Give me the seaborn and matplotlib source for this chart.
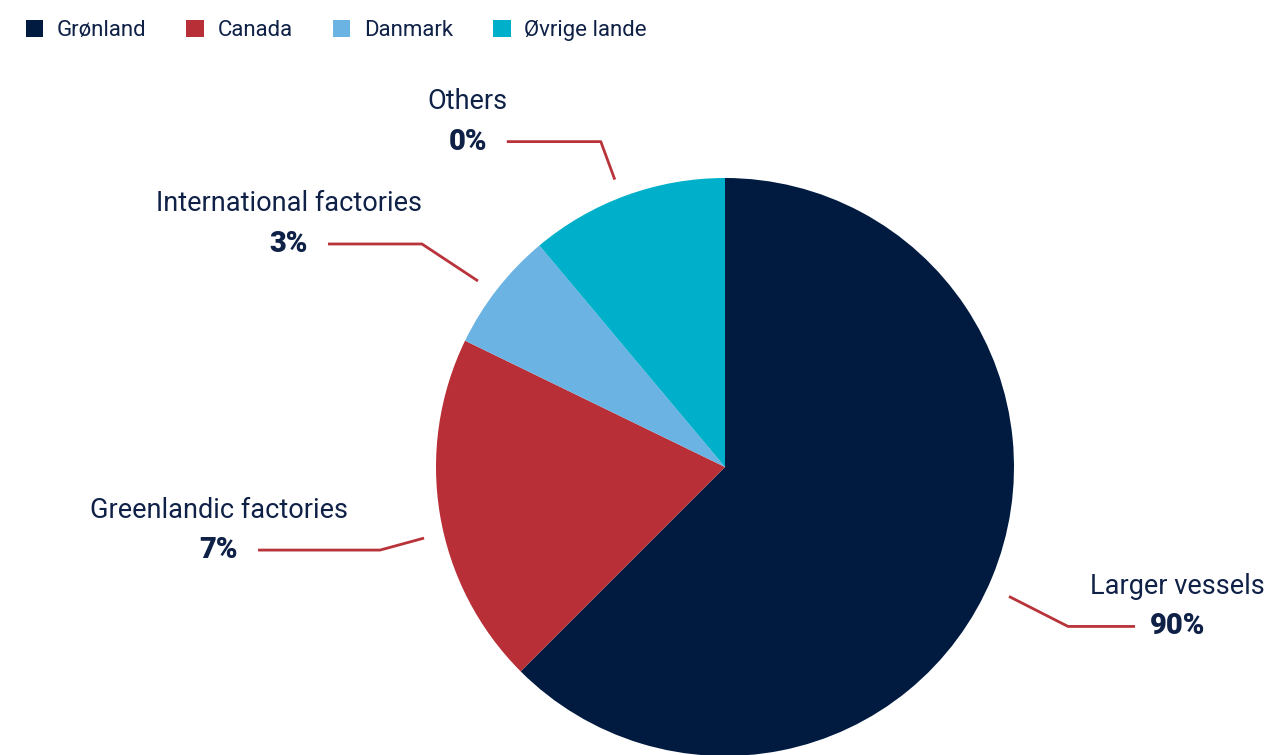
import numpy as np
import matplotlib
matplotlib.use('Agg')
import matplotlib.pyplot as plt
import seaborn as sns
from matplotlib.patches import Patch

# slice shares as drawn
legend_names = ['Grønland', 'Canada', 'Danmark', 'Øvrige lande']
slice_values = [62.5, 19.7, 6.7, 11.1]
slice_colors = ['#001a40', '#b92f37', '#6bb3e3', '#00afc9']

# callout texts, one per slice
callout_names = ['Larger vessels', 'Greenlandic factories', 'International factories', 'Others']
callout_pcts = ['90%', '7%', '3%', '0%']

text_color = '#0f2147'
line_color = '#b9333a'

sns.set_theme(style='white')
plt.rcParams['font.family'] = ['Roboto', 'DejaVu Sans']

W, H = 1268, 755
fig = plt.figure(figsize=(W / 100, H / 100), dpi=100)
ax = fig.add_axes([0, 0, 1, 1])

cx, cy, R = 725, H - 467, 289
wedges, _ = ax.pie(slice_values, colors=slice_colors, startangle=90, counterclock=False,
                   center=(cx, cy), radius=R, wedgeprops=dict(linewidth=0))
ax.set_xlim(0, W)
ax.set_ylim(0, H)
ax.set_aspect('equal')
ax.axis('off')

# leader line layout: (angle tweak, radius factor, elbow dx, elbow dy, horizontal length)
layout = [(-2, 1.08, 59, -30, 67), (3.75, 1.07, -44, -12, -122),
          (1, 1.07, -56, 37, -94), (1, 1.065, -14, 38, -94)]

fig.canvas.draw()
renderer = fig.canvas.get_renderer()
inv = ax.transData.inverted()

for w, name, pct, (dt, rf, ex, ey, hl) in zip(wedges, callout_names, callout_pcts, layout):
    mid = np.deg2rad((w.theta1 + w.theta2) / 2 + dt)
    sx = cx + rf * R * np.cos(mid)
    sy = cy + rf * R * np.sin(mid)
    bx, by = sx + ex, sy + ey
    tx = bx + hl
    ax.plot([sx, bx, tx], [sy, by, by], color=line_color, lw=2, solid_capstyle='butt')
    if hl > 0:
        p = ax.text(tx + 15, by, pct, ha='left', va='center', fontsize=21,
                    fontweight='black', color=text_color)
    else:
        p = ax.text(tx - 20, by, pct, ha='right', va='center', fontsize=21,
                    fontweight='black', color=text_color)
    bb = p.get_window_extent(renderer)
    (x0, _), (x1, _) = inv.transform([[bb.x0, bb.y0], [bb.x1, bb.y1]])
    ax.text((x0 + x1) / 2, by + 40, name, ha='center', va='center', fontsize=19.5,
            color=text_color)

handles = [Patch(facecolor=c, edgecolor='none') for c in slice_colors]
leg = fig.legend(handles, legend_names, loc='upper left', bbox_to_anchor=(0.008, 0.994),
                 ncol=4, frameon=False, fontsize=16, handlelength=0.8, handleheight=0.8,
                 handletextpad=0.6, columnspacing=1.8, borderaxespad=0.3)
for t in leg.get_texts():
    t.set_color(text_color)

fig.savefig('out.png', dpi=100)
